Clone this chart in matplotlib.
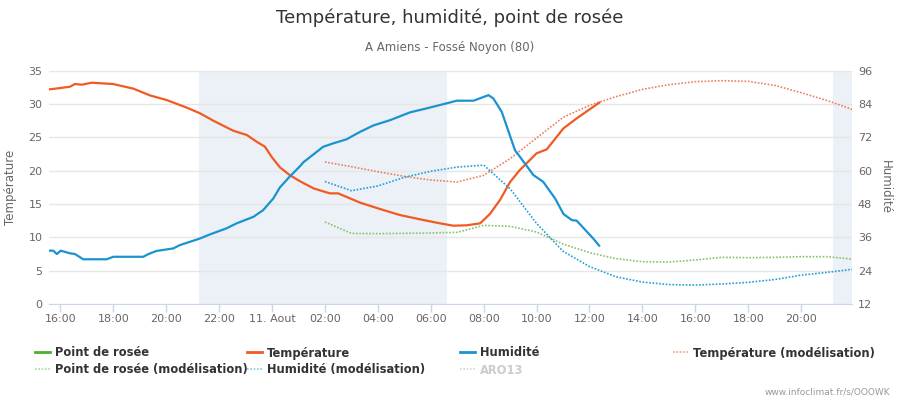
import matplotlib
matplotlib.use("Agg")
import matplotlib.pyplot as plt
import matplotlib.dates as mdates
from matplotlib.lines import Line2D
import pandas as pd

# ---------------------------------------------------------------------------
# Data
# ---------------------------------------------------------------------------

# observed temperature (left axis, °C)
temp_times = [
    "2019-08-10 15:35", "2019-08-10 16:00", "2019-08-10 16:22", "2019-08-10 16:33",
    "2019-08-10 16:49", "2019-08-10 17:11", "2019-08-10 18:00", "2019-08-10 18:46",
    "2019-08-10 19:23", "2019-08-10 20:01", "2019-08-10 20:47", "2019-08-10 21:17",
    "2019-08-10 21:47", "2019-08-10 22:32", "2019-08-10 23:03", "2019-08-10 23:25",
    "2019-08-10 23:44", "2019-08-11 00:00", "2019-08-11 00:18", "2019-08-11 00:41",
    "2019-08-11 01:04", "2019-08-11 01:34", "2019-08-11 02:11", "2019-08-11 02:30",
    "2019-08-11 03:20", "2019-08-11 04:05", "2019-08-11 04:50", "2019-08-11 05:36",
    "2019-08-11 06:21", "2019-08-11 06:51", "2019-08-11 07:21", "2019-08-11 07:52",
    "2019-08-11 08:14", "2019-08-11 08:37", "2019-08-11 09:00", "2019-08-11 09:22",
    "2019-08-11 10:00", "2019-08-11 10:23", "2019-08-11 11:01", "2019-08-11 11:31",
    "2019-08-11 12:22",
]
temp_values = [
    32.2, 32.4, 32.6, 33.0, 32.9, 33.2, 33.0, 32.3,
    31.3, 30.6, 29.45, 28.6, 27.5, 26.0, 25.35, 24.35,
    23.6, 22.0, 20.5, 19.3, 18.4, 17.35, 16.6, 16.6,
    15.2, 14.25, 13.35, 12.7, 12.1, 11.75, 11.8, 12.1,
    13.5, 15.6, 18.3, 20.1, 22.6, 23.2, 26.35, 27.85,
    30.2,
]

# observed humidity (right axis, %)
hum_times = [
    "2019-08-10 15:35", "2019-08-10 15:44", "2019-08-10 15:52", "2019-08-10 16:01",
    "2019-08-10 16:22", "2019-08-10 16:33", "2019-08-10 16:52", "2019-08-10 17:45",
    "2019-08-10 18:00", "2019-08-10 19:08", "2019-08-10 19:20", "2019-08-10 19:38",
    "2019-08-10 20:16", "2019-08-10 20:31", "2019-08-10 21:17", "2019-08-10 21:40",
    "2019-08-10 22:17", "2019-08-10 22:40", "2019-08-10 23:18", "2019-08-10 23:40",
    "2019-08-11 00:03", "2019-08-11 00:18", "2019-08-11 00:41", "2019-08-11 01:04",
    "2019-08-11 01:11", "2019-08-11 01:56", "2019-08-11 02:19", "2019-08-11 02:49",
    "2019-08-11 03:20", "2019-08-11 03:50", "2019-08-11 04:28", "2019-08-11 05:13",
    "2019-08-11 05:51", "2019-08-11 06:36", "2019-08-11 06:59", "2019-08-11 07:37",
    "2019-08-11 08:11", "2019-08-11 08:22", "2019-08-11 08:41", "2019-08-11 09:11",
    "2019-08-11 09:53", "2019-08-11 10:15", "2019-08-11 10:42", "2019-08-11 11:01",
    "2019-08-11 11:20", "2019-08-11 11:31", "2019-08-11 12:08", "2019-08-11 12:22",
]
hum_values = [
    31.2, 31.2, 30.0, 31.2, 30.25, 30.0, 28.1, 28.1,
    29.0, 29.0, 30.0, 31.1, 32.0, 33.2, 35.6, 37.1,
    39.25, 41.05, 43.4, 45.8, 50.0, 54.0, 58.0, 61.7,
    63.0, 68.6, 69.85, 71.3, 74.0, 76.3, 78.2, 81.0,
    82.45, 84.25, 85.2, 85.2, 87.2, 86.0, 81.2, 67.4,
    58.4, 56.0, 50.0, 44.4, 42.2, 42.0, 35.65, 33.0,
]

# model run, hourly 02:00 -> 22:00 on the 11th
model_times = ["2019-08-11 %02d:00" % h for h in range(2, 23)]
model_temp = [
    21.3, 20.6, 19.85, 19.15, 18.6, 18.3, 19.3, 21.8, 24.9, 28.0, 29.8,
    31.1, 32.2, 32.9, 33.35, 33.5, 33.4, 32.8, 31.7, 30.5, 29.1,
]
model_hum = [
    56.1, 52.8, 54.5, 57.6, 59.8, 61.3, 62.0, 53.5, 41.0, 31.0, 25.5,
    21.8, 19.9, 19.0, 18.8, 19.2, 19.8, 20.8, 22.4, 23.4, 24.6,
]
model_dew = [
    12.3, 10.6, 10.55, 10.6, 10.65, 10.75, 11.8, 11.65, 10.8, 9.0, 7.7,
    6.8, 6.35, 6.3, 6.6, 7.0, 6.95, 7.0, 7.1, 7.1, 6.7,
]

# night bands (sunset -> sunrise)
night_start = ["2019-08-10 21:14", "2019-08-11 21:13"]
night_end = ["2019-08-11 06:38", "2019-08-11 22:00"]

X_MIN = "2019-08-10 15:35"
X_MAX = "2019-08-11 21:56"

# ---------------------------------------------------------------------------
# Style
# ---------------------------------------------------------------------------
C_TEMP = "#f15a22"
C_HUM = "#1a93cf"
C_DEW = "#4cb030"
C_TEMP_M = "#ec8060"
C_HUM_M = "#22a0d8"
C_DEW_M = "#84c46c"
C_TEMP_LEG = "#f0a088"
C_HUM_LEG = "#88c4e0"
C_DEW_LEG = "#a8dc98"
C_ARO = "#d8d8d8"
C_NIGHT = "#ecf0f7"
C_GRID = "#e6e6e6"
C_AXIS = "#ccd6eb"
C_LABEL = "#666666"
DOT = (0, (1, 1))

plt.rcParams["font.family"] = ["DejaVu Sans"]

fig = plt.figure(figsize=(9, 4), dpi=100)
ax = fig.add_axes([49.3 / 900, 96 / 400, 803 / 900, 233.3 / 400])
ax2 = ax.twinx()

t = pd.to_datetime

for s, e in zip(night_start, night_end):
    ax.axvspan(t(s), t(e), color=C_NIGHT, lw=0, zorder=0)

ax.plot(t(temp_times), temp_values, color=C_TEMP, lw=1.6, zorder=3)
ax.plot(t(model_times), model_temp, color=C_TEMP_M, lw=1.2, ls=DOT, zorder=2)
ax.plot(t(model_times), model_dew, color=C_DEW_M, lw=1.2, ls=DOT, zorder=2)
ax2.plot(t(hum_times), hum_values, color=C_HUM, lw=1.6, zorder=3)
ax2.plot(t(model_times), model_hum, color=C_HUM_M, lw=1.2, ls=DOT, zorder=2)

ax.set_xlim(t(X_MIN), t(X_MAX))
ax.set_ylim(0, 35)
ax.set_yticks(range(0, 36, 5))
ax2.set_ylim(12, 96)
ax2.set_yticks(range(12, 97, 12))

ax.grid(axis="y", color=C_GRID, lw=1)
ax.set_axisbelow(True)

ax.xaxis.set_major_locator(mdates.HourLocator(byhour=range(0, 24, 2)))


def _fmt(x, pos=None):
    d = mdates.num2date(x)
    if d.hour == 0 and d.minute == 0:
        return "11. Aout"
    return d.strftime("%H:%M")


ax.xaxis.set_major_formatter(plt.FuncFormatter(_fmt))

for a in (ax, ax2):
    for sp in a.spines.values():
        sp.set_visible(False)
ax.spines["bottom"].set_visible(True)
ax.spines["bottom"].set_color(C_AXIS)

ax.tick_params(axis="x", length=6, width=1, color=C_AXIS, labelcolor=C_LABEL,
               labelsize=8, pad=1.5)
ax.tick_params(axis="y", length=0, labelcolor=C_LABEL, labelsize=8, pad=5)
ax2.tick_params(axis="y", length=0, labelcolor=C_LABEL, labelsize=8, pad=4)

ax.set_ylabel("Température", color=C_LABEL, fontsize=8.5, labelpad=8)
ax2.set_ylabel("Humidité", color=C_LABEL, fontsize=8.5, rotation=270, labelpad=14)

# titles
fig.text(0.5, 1 - 18 / 400, "Température, humidité, point de rosée",
         ha="center", va="center", fontsize=13, color="#333333")
fig.text(0.5, 1 - 47 / 400, "A Amiens - Fossé Noyon (80)",
         ha="center", va="center", fontsize=8.5, color=C_LABEL)
fig.text(890 / 900, 1 - 392 / 400, "www.infoclimat.fr/s/OOOWK",
         ha="right", va="center", fontsize=6.5, color="#999999")

# legend (Highcharts style, fixed item slots)
legend_items = [
    ("Point de rosée", C_DEW, "-", 35, 352),
    ("Température", C_TEMP, "-", 247, 352),
    ("Humidité", C_HUM, "-", 460, 352),
    ("Température (modélisation)", C_TEMP_LEG, ":", 673, 352),
    ("Point de rosée (modélisation)", C_DEW_LEG, ":", 35, 369),
    ("Humidité (modélisation)", C_HUM_LEG, ":", 247, 369),
    ("ARO13", C_ARO, ":", 460, 369),
]
for label, col, ls, px, py in legend_items:
    yf = 1 - py / 400
    fig.add_artist(Line2D([px / 900, (px + 15) / 900], [yf, yf], color=col,
                          lw=2 if ls == "-" else 1.2,
                          ls="-" if ls == "-" else DOT,
                          transform=fig.transFigure))
    fig.text((px + 20) / 900, 1 - (py + 4.5) / 400, label, ha="left",
             va="baseline", fontsize=8.3, fontweight="bold",
             color="#cccccc" if label == "ARO13" else "#333333")

fig.savefig("out.png", dpi=100, facecolor="white")
